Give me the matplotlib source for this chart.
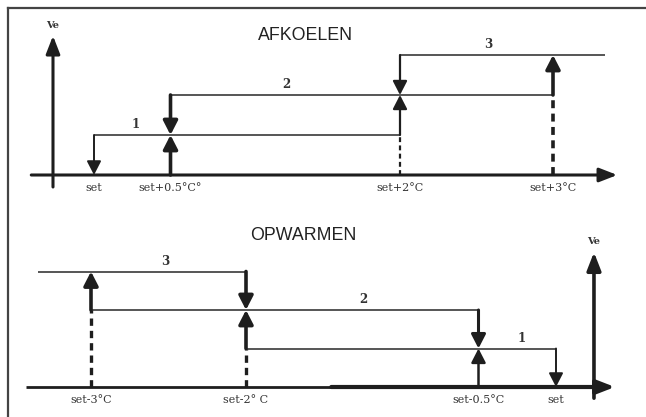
import matplotlib.pyplot as plt
from matplotlib.lines import Line2D

# Trappen (stages) en schakelpunten in graden t.o.v. setpoint
trappen = [1, 2, 3]

# AFKOELEN: trap k aan bij temp_aan, uit bij temp_uit
koel_aan = [0.5, 2.0, 3.0]
koel_uit = [0.0, 0.5, 2.0]
koel_labels = ['set', 'set+0.5°C°', 'set+2°C', 'set+3°C']
koel_ticks = [0.0, 0.5, 2.0, 3.0]

# OPWARMEN
warm_aan = [-0.5, -2.0, -3.0]
warm_uit = [0.0, -0.5, -2.0]
warm_labels = ['set-3°C', 'set-2° C', 'set-0.5°C', 'set']
warm_ticks = [-3.0, -2.0, -0.5, 0.0]

W, H = 646, 417
fig = plt.figure(figsize=(W / 100, H / 100), dpi=100)

ZWART = '#1e1e1e'
GRIJS = '#555555'
serif = 'DejaVu Serif'
kop = 'Liberation Sans'


def paneel(y0, y1, x_set, px_graad, y_basis, px_trap):
    ax = fig.add_axes([0, 1 - y1 / H, 1, (y1 - y0) / H])
    ax.set_xlim(-x_set / px_graad, (W - x_set) / px_graad)
    ax.set_ylim(-(y1 - y_basis) / px_trap, (y_basis - y0) / px_trap)
    ax.axis('off')
    return ax


def pijl(ax, x, y_van, y_naar, lw, kop_l=0.7, kop_b=0.36):
    ax.annotate('', xy=(x, y_naar), xytext=(x, y_van),
                arrowprops=dict(arrowstyle=f'-|>,head_length={kop_l},head_width={kop_b}',
                                mutation_scale=12, lw=lw, color=ZWART,
                                shrinkA=0, shrinkB=0))


# ---------- AFKOELEN ----------
ax1 = paneel(0, 205, 94, 153, 175, 40)
x_eind = 3.34
# basislijn en Ve-as
ax1.annotate('', xy=(3.42, 0), xytext=(-0.41, 0),
             arrowprops=dict(arrowstyle='-|>,head_length=0.9,head_width=0.35',
                             mutation_scale=12, lw=2.2, color=ZWART, shrinkA=0, shrinkB=0))
ax1.annotate('', xy=(-0.268, 3.48), xytext=(-0.268, -0.3),
             arrowprops=dict(arrowstyle='-|>,head_length=0.9,head_width=0.35',
                             mutation_scale=12, lw=2.2, color=ZWART, shrinkA=0, shrinkB=0))
ax1.text(-0.268, 3.62, 'Ve', ha='center', va='bottom', fontsize=7,
         family=serif, fontweight='bold', color='#333333')

for i, k in enumerate(trappen):
    eind = koel_aan[i + 1] if i + 1 < len(trappen) else x_eind
    ax1.plot([koel_uit[i], eind], [k, k], color=GRIJS, lw=1.4, solid_capstyle='butt')

for i, k in enumerate(trappen):
    lw_op = [2.6, 1.6, 2.6][i]
    if k > 1:
        ax1.plot([koel_aan[i]] * 2, [0, k - 1], color=ZWART, lw=lw_op,
                 linestyle=(0, (2.2, 1.5)))
    pijl(ax1, koel_aan[i], k - 1, k, lw_op)
    pijl(ax1, koel_uit[i], k, k - 1, [1.4, 2.6, 1.6][i])

for x, t in zip(koel_ticks, koel_labels):
    ax1.text(x, -0.2, t, ha='center', va='top', fontsize=8, family=serif, color='#333333')
for x, k in zip([0.27, 1.26, 2.58], trappen):
    ax1.text(x, k + 0.1, str(k), ha='center', va='bottom', fontsize=8.5,
             family=serif, fontweight='bold', color='#333333')
ax1.text(1.38, 3.5, 'AFKOELEN', ha='center', va='center', fontsize=12.8,
         family=kop, color='#222222')

# ---------- OPWARMEN ----------
ax2 = paneel(205, 417, 556, 155, 387, 38.5)
x_begin = -3.34
ax2.plot([-3.42, -1.4], [0, 0], color=ZWART, lw=2.0, solid_capstyle='butt')
ax2.annotate('', xy=(0.38, 0), xytext=(-1.45, 0),
             arrowprops=dict(arrowstyle='-|>,head_length=0.9,head_width=0.35',
                             mutation_scale=12, lw=3.0, color=ZWART, shrinkA=0, shrinkB=0))
ax2.annotate('', xy=(0.245, 3.5), xytext=(0.245, -0.29),
             arrowprops=dict(arrowstyle='-|>,head_length=0.9,head_width=0.35',
                             mutation_scale=12, lw=2.6, color=ZWART, shrinkA=0, shrinkB=0))
ax2.text(0.245, 3.66, 'Ve', ha='center', va='bottom', fontsize=7,
         family=serif, fontweight='bold', color='#333333')

for i, k in enumerate(trappen):
    begin = warm_aan[i + 1] if i + 1 < len(trappen) else x_begin
    ax2.plot([begin, warm_uit[i]], [k, k], color=GRIJS, lw=1.4, solid_capstyle='butt')

for i, k in enumerate(trappen):
    lw_op = [1.8, 2.6, 2.6][i]
    if k > 1:
        ax2.plot([warm_aan[i]] * 2, [0, k - 1], color=ZWART, lw=2.4,
                 linestyle=(0, (2.2, 1.5)))
    pijl(ax2, warm_aan[i], k - 1, k, lw_op)
    pijl(ax2, warm_uit[i], k, k - 1, [1.4, 2.2, 2.6][i])

for x, t in zip(warm_ticks, warm_labels):
    ax2.text(x, -0.22, t, ha='center', va='top', fontsize=8, family=serif, color='#333333')
for x, k in zip([-0.22, -1.245, -2.52], trappen):
    ax2.text(x, k + 0.1, str(k), ha='center', va='bottom', fontsize=8.5,
             family=serif, fontweight='bold', color='#333333')
ax2.text(-1.63, 3.93, 'OPWARMEN', ha='center', va='center', fontsize=12.8,
         family=kop, color='#222222')

# kader links en boven
fig.add_artist(Line2D([8 / W, 8 / W], [0, 1 - 8 / H], color='#444444', lw=1.6,
                      transform=fig.transFigure))
fig.add_artist(Line2D([8 / W, 1], [1 - 8 / H, 1 - 8 / H], color='#444444', lw=1.6,
                      transform=fig.transFigure))

fig.savefig('out.png', dpi=100)
